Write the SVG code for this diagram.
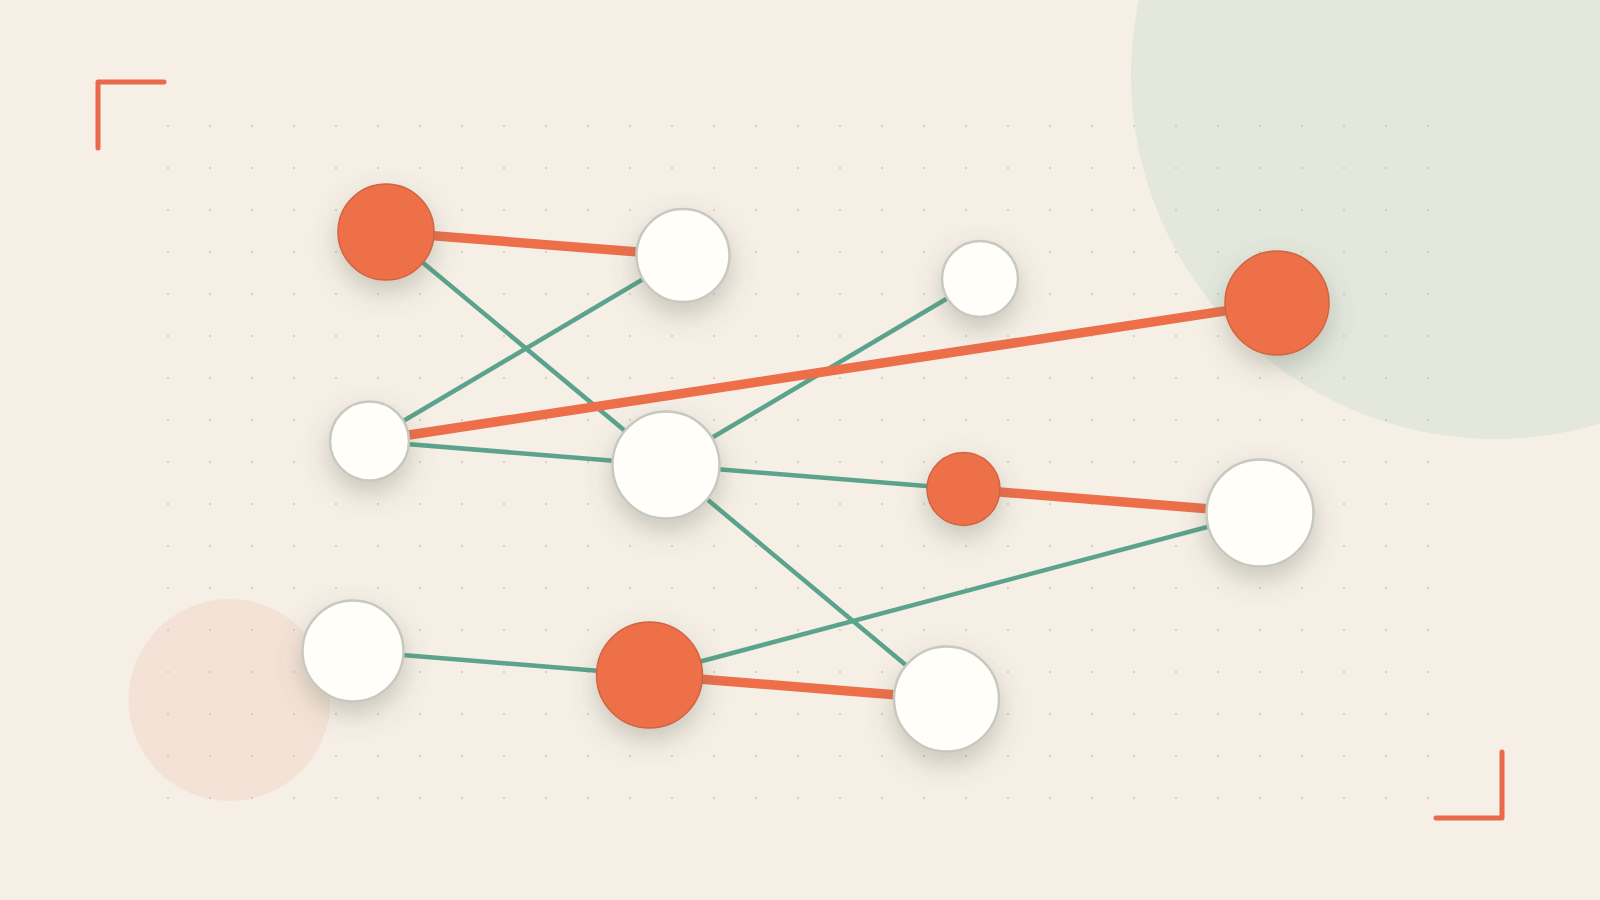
<svg xmlns="http://www.w3.org/2000/svg" width="1600" height="900" viewBox="0 0 1600 900">
  <defs>
    <pattern id="dots" x="147" y="105" width="42" height="42" patternUnits="userSpaceOnUse">
      <circle cx="21" cy="21" r="1" fill="#cbc7bc"/>
    </pattern>
    <filter id="shadow" x="-80%" y="-80%" width="260%" height="270%">
      <feDropShadow dx="0" dy="11" stdDeviation="13" flood-color="#5f6650" flood-opacity="0.3"/>
    </filter>
    <style>
      .bracket { fill: none; stroke: #e9694a; stroke-width: 5; stroke-linecap: round; stroke-linejoin: round; }
      .edge-hot { stroke: #ec6f4a; stroke-width: 9.5; stroke-linecap: round; }
      .edge-cool { stroke: #5ba38c; stroke-width: 4.5; stroke-linecap: round; }
      .node-hot { fill: #ee7049; stroke: #cf6442; stroke-width: 1.5; filter: url(#shadow); }
      .node-cool { fill: #fffef9; stroke: #c7c8c0; stroke-width: 2.5; filter: url(#shadow); }
    </style>
  </defs>

  <rect width="1600" height="900" fill="#f5efe6"/>
  <circle cx="1495" cy="75" r="364" fill="#e3e7dc"/>
  <circle cx="229.5" cy="700" r="101" fill="#f4e2d6"/>
  <rect x="147" y="105" width="1302" height="714" fill="url(#dots)"/>

  <path class="bracket" d="M98,148 V82 H164"/>
  <path class="bracket" d="M1436,818 H1502 V752"/>

  <g id="connectors">
    <line class="edge-cool" x1="386" y1="232" x2="666" y2="465"/>
    <line class="edge-cool" x1="369.5" y1="441" x2="683" y2="255.5"/>
    <line class="edge-cool" x1="369.5" y1="441" x2="666" y2="465"/>
    <line class="edge-cool" x1="666" y1="465" x2="980" y2="279"/>
    <line class="edge-cool" x1="666" y1="465" x2="963.5" y2="489"/>
    <line class="edge-cool" x1="666" y1="465" x2="946.5" y2="699"/>
    <line class="edge-cool" x1="353" y1="651" x2="649.5" y2="675"/>
    <line class="edge-cool" x1="649.5" y1="675" x2="1260" y2="513"/>
    <line class="edge-hot" x1="386" y1="232" x2="683" y2="255.5"/>
    <line class="edge-hot" x1="369.5" y1="441" x2="1277" y2="303"/>
    <line class="edge-hot" x1="963.5" y1="489" x2="1260" y2="513"/>
    <line class="edge-hot" x1="649.5" y1="675" x2="946.5" y2="699"/>
  </g>

  <g id="node-a"><circle class="node-hot" cx="386" cy="232" r="48"/></g>
  <g id="node-b"><circle class="node-cool" cx="683" cy="255.5" r="46.5"/></g>
  <g id="node-c"><circle class="node-cool" cx="369.5" cy="441" r="39.5"/></g>
  <g id="node-d"><circle class="node-cool" cx="666" cy="465" r="53.5"/></g>
  <g id="node-e"><circle class="node-cool" cx="980" cy="279" r="38"/></g>
  <g id="node-f"><circle class="node-hot" cx="1277" cy="303" r="52"/></g>
  <g id="node-g"><circle class="node-hot" cx="963.5" cy="489" r="36.5"/></g>
  <g id="node-h"><circle class="node-cool" cx="1260" cy="513" r="53.5"/></g>
  <g id="node-i"><circle class="node-hot" cx="649.5" cy="675" r="53"/></g>
  <g id="node-j"><circle class="node-cool" cx="946.5" cy="699" r="52.5"/></g>
  <g id="node-k"><circle class="node-cool" cx="353" cy="651" r="50.5"/></g>
</svg>
